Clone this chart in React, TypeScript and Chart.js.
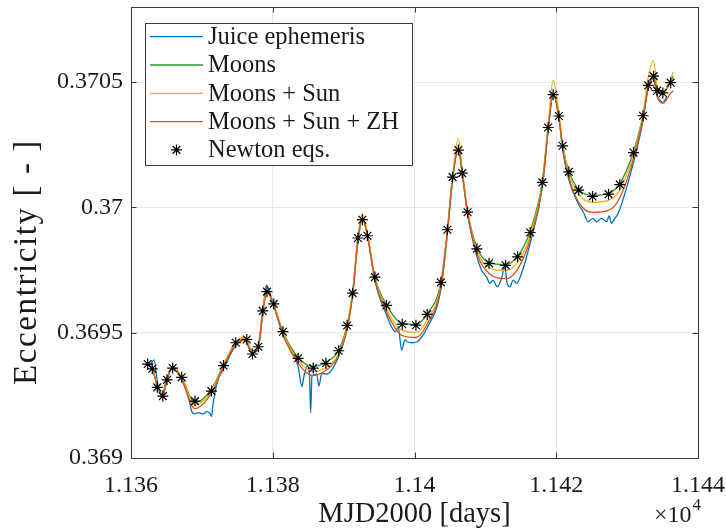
import React, { useEffect, useRef } from 'react';
import { Chart, registerables } from 'chart.js';

Chart.register(...registerables);

const FONT = '"Liberation Serif", "Times New Roman", serif';
const TEXT = '#1a1a1a';

// axis ranges / ticks
const xMin = 11360;
const xMax = 11440;
const xStep = 20;
const yMin = 0.369;
const yMax = 0.3708;
const yStep = 0.0005;

const xTitle = 'MJD2000 [days]';
const yTitle = 'Eccentricity [ - ]';
const seriesLabels = ['Juice ephemeris', 'Moons', 'Moons + Sun', 'Moons + Sun + ZH', 'Newton eqs.'];
const seriesColors = ['#0072BD', '#2a962a', '#EDB120', '#D95319', '#000000'];

// Newton eqs. (markers)
const newtonDays = [
  11362.36, 11363.0, 11363.71, 11364.49, 11365.08, 11365.88, 11367.15, 11369.03, 11371.35, 11373.05,
  11374.78, 11376.33, 11377.14, 11377.96, 11378.59, 11379.18, 11380.14, 11381.44, 11383.58, 11385.71,
  11387.5, 11389.3, 11390.49, 11391.27, 11392.02, 11392.65, 11393.36, 11394.42, 11396.04, 11398.27,
  11400.2, 11401.79, 11403.72, 11404.64, 11405.37, 11406.19, 11406.73, 11407.49, 11408.8, 11410.52,
  11412.85, 11414.54, 11416.32, 11418.04, 11418.86, 11419.56, 11420.37, 11420.9, 11421.78, 11423.16,
  11425.12, 11427.38, 11428.97, 11430.9, 11432.24, 11432.98, 11433.74, 11434.23, 11435.04, 11436.14,
];
const newtonEcc = [
  0.369375, 0.369356, 0.369282, 0.369247, 0.369312, 0.369359, 0.369322, 0.369227, 0.369267, 0.369369,
  0.36946, 0.369473, 0.369415, 0.369444, 0.369587, 0.369664, 0.369615, 0.369504, 0.369398, 0.369359,
  0.369378, 0.369428, 0.369529, 0.369658, 0.369878, 0.369951, 0.369887, 0.369722, 0.369609, 0.369534,
  0.36953, 0.369573, 0.369701, 0.369911, 0.370121, 0.370229, 0.370137, 0.369981, 0.369835, 0.369777,
  0.369769, 0.369803, 0.3699, 0.3701, 0.370319, 0.37045, 0.370365, 0.370246, 0.370142, 0.370069,
  0.370044, 0.370053, 0.370091, 0.370219, 0.370366, 0.370487, 0.370524, 0.370466, 0.370457, 0.370498,
];

// propagated solutions (shared time grid)
const lineDays = [
  11362.1, 11363.0, 11363.7, 11364.4, 11365.08, 11365.9, 11367.15, 11369.0, 11371.35, 11373.05,
  11374.78, 11376.0, 11377.14, 11377.96, 11378.59, 11379.18, 11380.14, 11381.44, 11383.58, 11385.71,
  11387.5, 11389.3, 11390.49, 11391.27, 11392.02, 11392.65, 11393.36, 11394.42, 11396.04, 11398.27,
  11400.2, 11401.79, 11403.72, 11404.64, 11405.37, 11406.19, 11406.73, 11407.49, 11408.8, 11410.52,
  11412.85, 11414.54, 11416.32, 11418.04, 11418.86, 11419.56, 11420.37, 11420.9, 11421.78, 11423.16,
  11425.12, 11427.38, 11428.97, 11430.9, 11432.24, 11432.98, 11433.74, 11434.23, 11435.04, 11436.14,
  11436.5,
];
const moonsEcc = [
  0.369378, 0.36936, 0.36929, 0.369255, 0.369318, 0.369365, 0.369322, 0.369221, 0.369275, 0.369372,
  0.369462, 0.36948, 0.369428, 0.36945, 0.36959, 0.369665, 0.369612, 0.369505, 0.369402, 0.369365,
  0.369382, 0.36943, 0.36953, 0.36966, 0.36988, 0.369955, 0.36989, 0.369722, 0.369612, 0.369537,
  0.369533, 0.369575, 0.369702, 0.369912, 0.370122, 0.370232, 0.37014, 0.369985, 0.36984, 0.36978,
  0.369772, 0.369805, 0.369905, 0.370105, 0.37032, 0.370452, 0.370365, 0.370248, 0.370145, 0.370072,
  0.370048, 0.370056, 0.370095, 0.370222, 0.370368, 0.370488, 0.370522, 0.370468, 0.37046, 0.3705,
  0.370525,
];
const moonsSunEcc = [
  0.369378, 0.36936, 0.36929, 0.369251, 0.369318, 0.369365, 0.369322, 0.369211, 0.369269, 0.36937,
  0.369462, 0.369478, 0.369424, 0.369448, 0.36959, 0.369669, 0.369612, 0.369501, 0.36939, 0.369345,
  0.369362, 0.369418, 0.369526, 0.36966, 0.36988, 0.369975, 0.369894, 0.369718, 0.369596, 0.369509,
  0.369501, 0.369551, 0.36969, 0.369908, 0.370122, 0.370276, 0.370148, 0.369985, 0.369828, 0.36976,
  0.369748, 0.369781, 0.369889, 0.370101, 0.370328, 0.370508, 0.370377, 0.370248, 0.370137, 0.370052,
  0.37002, 0.370028, 0.370071, 0.37021, 0.370368, 0.37052, 0.370586, 0.370484, 0.370464, 0.370512,
  0.370541,
];
const moonsSunZhEcc = [
  0.369374, 0.369356, 0.369286, 0.369247, 0.369314, 0.369361, 0.369314, 0.369197, 0.369259, 0.369364,
  0.369454, 0.369472, 0.36942, 0.369442, 0.369578, 0.369665, 0.369608, 0.369493, 0.369378, 0.369329,
  0.36935, 0.36941, 0.369518, 0.369652, 0.369868, 0.369959, 0.36989, 0.36971, 0.369584, 0.369489,
  0.369481, 0.369535, 0.369682, 0.3699, 0.370114, 0.37024, 0.37014, 0.369977, 0.369816, 0.369736,
  0.369716, 0.369753, 0.369873, 0.370089, 0.370312, 0.370456, 0.370361, 0.370236, 0.370121, 0.37002,
  0.36998, 0.369988, 0.370039, 0.370194, 0.370356, 0.37048, 0.370522, 0.370444, 0.370416, 0.370456,
  0.370465,
];

// Juice ephemeris (denser, noisy)
const juiceDays = [
  11362.1, 11362.6, 11363.25, 11363.75, 11364.45, 11365.08, 11365.9, 11367.15, 11368.32, 11368.56,
  11369.03, 11369.49, 11370.2, 11370.68, 11371.14, 11371.38, 11371.52, 11372.2, 11373.05, 11374.78,
  11376.0, 11377.14, 11377.96, 11378.59, 11379.1, 11380.14, 11381.44, 11383.58, 11384.12, 11384.4,
  11384.87, 11385.18, 11385.35, 11385.53, 11386.19, 11386.52, 11386.9, 11387.6, 11389.3, 11390.49,
  11391.27, 11392.02, 11392.65, 11393.36, 11394.42, 11396.0, 11397.33, 11397.7, 11398.18, 11398.65,
  11398.97, 11399.59, 11400.38, 11400.76, 11401.79, 11403.72, 11404.64, 11405.37, 11406.19, 11406.73,
  11407.49, 11408.8, 11409.46, 11410.17, 11410.63, 11411.1, 11411.66, 11412.28, 11412.75, 11413.07,
  11413.46, 11413.92, 11414.4, 11415.11, 11416.32, 11418.04, 11418.86, 11419.56, 11420.37, 11420.9,
  11421.78, 11423.16, 11423.8, 11424.5, 11425.2, 11425.68, 11426.39, 11427.1, 11427.46, 11427.8,
  11428.26, 11428.73, 11430.9, 11432.24, 11432.98, 11433.74, 11434.15, 11434.61, 11435.08, 11435.32,
  11435.6,
];
const juiceEcc = [
  0.369374, 0.369372, 0.369392, 0.3693, 0.369245, 0.369312, 0.369365, 0.369314, 0.369218, 0.369185,
  0.369176, 0.369181, 0.369176, 0.369185, 0.369178, 0.369166, 0.369204, 0.369305, 0.369355, 0.36945,
  0.36947, 0.369418, 0.36944, 0.369575, 0.36969, 0.369608, 0.36949, 0.369365, 0.369285, 0.369327,
  0.369367, 0.369331, 0.369181, 0.369327, 0.369335, 0.369287, 0.369338, 0.369335, 0.369405, 0.369515,
  0.369648, 0.369862, 0.369955, 0.369888, 0.369705, 0.369575, 0.369504, 0.369524, 0.369431, 0.369471,
  0.369464, 0.36946, 0.369464, 0.369474, 0.36952, 0.369672, 0.369895, 0.37011, 0.370236, 0.370138,
  0.36997, 0.369805, 0.36975, 0.369723, 0.369697, 0.36971, 0.369683, 0.369717, 0.369763, 0.369697,
  0.369683, 0.36971, 0.369697, 0.369737, 0.369858, 0.37008, 0.370305, 0.370452, 0.370358, 0.37023,
  0.37011, 0.370012, 0.369983, 0.369943, 0.369956, 0.369943, 0.369956, 0.369943, 0.369966, 0.369937,
  0.369956, 0.369976, 0.37018, 0.370345, 0.370478, 0.370515, 0.370455, 0.370428, 0.370418, 0.370428,
  0.37044,
];

const pts = (xs: number[], ys: number[]) => xs.map((x, i) => ({ x, y: ys[i] }));
const fmt = (v: number) => String(parseFloat(v.toFixed(5)));

const AXIS = '#3a3a3a';

const frameAndLegend = {
  id: 'frameAndLegend',
  afterDraw(chart: any) {
    const ctx = chart.ctx as CanvasRenderingContext2D;
    const { left, right, top, bottom } = chart.chartArea;
    ctx.save();
    // axes box
    ctx.strokeStyle = AXIS;
    ctx.lineWidth = 1;
    ctx.strokeRect(Math.round(left) + 0.5, Math.round(top) + 0.5, Math.round(right - left), Math.round(bottom - top));
    // inward ticks
    const tl = 5.5;
    ctx.beginPath();
    chart.scales.x.ticks.forEach((t: any) => {
      const px = Math.round(chart.scales.x.getPixelForValue(t.value)) + 0.5;
      ctx.moveTo(px, bottom); ctx.lineTo(px, bottom - tl);
      ctx.moveTo(px, top); ctx.lineTo(px, top + tl);
    });
    chart.scales.y.ticks.forEach((t: any) => {
      const py = Math.round(chart.scales.y.getPixelForValue(t.value)) + 0.5;
      ctx.moveTo(left, py); ctx.lineTo(left + tl, py);
      ctx.moveTo(right, py); ctx.lineTo(right - tl, py);
    });
    ctx.stroke();

    // y-axis title
    ctx.save();
    ctx.translate(27, 262);
    ctx.rotate(-Math.PI / 2);
    ctx.fillStyle = TEXT;
    ctx.font = `33px ${FONT}`;
    (ctx as any).letterSpacing = '1.6px';
    ctx.textAlign = 'center';
    ctx.textBaseline = 'middle';
    ctx.fillText(yTitle, 0, 0);
    ctx.restore();

    // exponent label
    ctx.fillStyle = TEXT;
    ctx.textBaseline = 'alphabetic';
    ctx.textAlign = 'left';
    ctx.font = `24px ${FONT}`;
    const bx = 654;
    ctx.fillText('×10', bx, 522);
    const w = ctx.measureText('×10').width;
    ctx.font = `17px ${FONT}`;
    ctx.fillText('4', bx + w + 1, 510);

    // legend
    const lx = left + 14, ly = top + 16, lw = 267, lh = 142;
    ctx.fillStyle = '#ffffff';
    ctx.fillRect(lx, ly, lw, lh);
    ctx.strokeStyle = AXIS;
    ctx.lineWidth = 1;
    ctx.strokeRect(Math.round(lx) + 0.5, Math.round(ly) + 0.5, lw, lh);
    ctx.font = `24.5px ${FONT}`;
    ctx.textBaseline = 'middle';
    chart.data.datasets.forEach((ds: any, i: number) => {
      const cy = ly + 13.7 + i * 28.3;
      if (ds.showLine === false) {
        const cx = lx + 31.5, r = 5.5;
        ctx.strokeStyle = '#000';
        ctx.lineWidth = 1.2;
        ctx.beginPath();
        ctx.moveTo(cx - r, cy); ctx.lineTo(cx + r, cy);
        ctx.moveTo(cx, cy - r); ctx.lineTo(cx, cy + r);
        const d = r * Math.SQRT1_2;
        ctx.moveTo(cx - d, cy - d); ctx.lineTo(cx + d, cy + d);
        ctx.moveTo(cx - d, cy + d); ctx.lineTo(cx + d, cy - d);
        ctx.stroke();
      } else {
        ctx.strokeStyle = ds.borderColor;
        ctx.lineWidth = 1.3;
        ctx.beginPath();
        ctx.moveTo(lx + 5, cy); ctx.lineTo(lx + 58, cy);
        ctx.stroke();
      }
      ctx.fillStyle = TEXT;
      ctx.fillText(ds.label, lx + 63, cy + 1);
    });
    ctx.restore();
  },
};

export default function App() {
  const ref = useRef<HTMLCanvasElement>(null);
  useEffect(() => {
    const lineDs = (i: number, xs: number[], ys: number[], order: number) => ({
      label: seriesLabels[i],
      data: pts(xs, ys),
      borderColor: seriesColors[i],
      backgroundColor: seriesColors[i],
      borderWidth: 1.3,
      pointRadius: 0,
      cubicInterpolationMode: 'monotone' as const,
      order,
    });
    const chart = new Chart(ref.current!, {
      type: 'line',
      data: {
        datasets: [
          lineDs(0, juiceDays, juiceEcc, 4),
          lineDs(1, lineDays, moonsEcc, 3),
          lineDs(2, lineDays, moonsSunEcc, 2),
          lineDs(3, lineDays, moonsSunZhEcc, 1),
          {
            label: seriesLabels[4],
            data: pts(newtonDays, newtonEcc),
            showLine: false,
            pointStyle: 'star',
            pointRadius: 5.5,
            pointBorderWidth: 1.2,
            borderColor: '#000',
            backgroundColor: '#000',
            pointBorderColor: '#000',
            order: 0,
          } as any,
        ],
      },
      options: {
        animation: false,
        responsive: false,
        layout: { padding: { left: 0, right: 28, top: 7, bottom: 0 } },
        plugins: { legend: { display: false }, tooltip: { enabled: false } },
        scales: {
          x: {
            type: 'linear',
            min: xMin,
            max: xMax,
            ticks: {
              stepSize: xStep,
              includeBounds: false,
              maxRotation: 0,
              autoSkip: false,
              padding: 13,
              color: TEXT,
              font: { family: FONT, size: 24 },
              callback: (v: any) => fmt(Number(v) / 10000),
            },
            grid: { color: '#e6e6e6', drawTicks: false, lineWidth: 1 },
            border: { display: false },
            title: {
              display: true,
              text: xTitle,
              color: TEXT,
              font: { family: FONT, size: 28.5 },
              padding: { top: 0, bottom: -1 },
            },
            afterFit: (s: any) => { s.height = 73; s.paddingLeft = 0; s.paddingRight = 0; },
          },
          y: {
            type: 'linear',
            min: yMin,
            max: yMax,
            ticks: {
              stepSize: yStep,
              includeBounds: false,
              padding: 8,
              color: TEXT,
              font: { family: FONT, size: 24 },
              callback: (v: any) => fmt(Number(v)),
            },
            grid: { color: '#e6e6e6', drawTicks: false, lineWidth: 1 },
            border: { display: false },
            title: { display: false },
            afterFit: (s: any) => { s.width = 131; s.paddingTop = 0; s.paddingBottom = 0; },
          },
        },
      } as any,
      plugins: [frameAndLegend],
    });
    return () => chart.destroy();
  }, []);
  return (
    <div style={{ position: 'fixed', left: 0, top: 0, width: 726, height: 531, background: '#fff' }}>
      <canvas ref={ref} width={726} height={531} style={{ display: 'block', width: 726, height: 531 }} />
    </div>
  );
}
